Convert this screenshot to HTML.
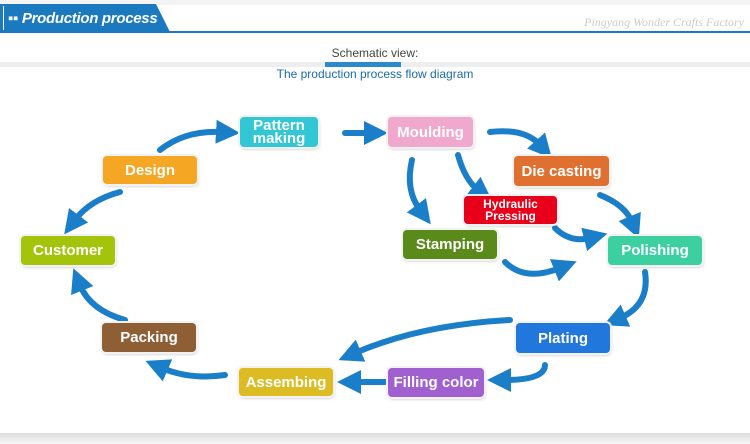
<!DOCTYPE html>
<html><head><meta charset="utf-8"><style>
body{margin:0;width:750px;height:444px;background:#fff;overflow:hidden;position:relative;font-family:"Liberation Sans",sans-serif}
.b{position:absolute;border-radius:4px;color:#fff;font-weight:bold;font-size:15px;display:flex;align-items:center;justify-content:center;text-align:center;box-shadow:0 0 0 2px #f2f2f2,1px 2px 3px rgba(0,0,0,.25);line-height:13px}
</style></head><body>
<div style="position:absolute;left:0;top:0;width:750px;height:5px;background:#f4f4f4"></div>
<div style="position:absolute;left:0;top:31px;width:750px;height:2px;background:#1a79bf"></div>
<div style="position:absolute;left:0;top:4px;width:170px;height:28px;background:#1a79bf;clip-path:polygon(0 0,156px 0,170px 100%,0 100%)"></div>
<div style="position:absolute;left:3px;top:6px;width:1px;height:24px;background:#fff"></div>
<div style="position:absolute;left:8px;top:10px;color:#fff;font-size:15px;font-weight:bold;font-style:italic;letter-spacing:-0.3px;white-space:nowrap">▪▪ Production process</div>
<div style="position:absolute;right:6px;top:15px;color:#ccc;font-size:12px;font-style:italic;font-family:'Liberation Serif',serif">Pingyang Wonder Crafts Factory</div>
<div style="position:absolute;left:0;top:62px;width:750px;height:5px;background:#eee"></div>
<div style="position:absolute;left:325px;top:62px;width:76px;height:5px;background:#2a8acb"></div>
<div style="position:absolute;left:0;top:46px;width:750px;text-align:center;color:#444;font-size:12px">Schematic view:</div>
<div style="position:absolute;left:0;top:67px;width:750px;text-align:center;color:#1a6bab;font-size:12px">The production process flow diagram</div>
<div style="position:absolute;left:0;top:433px;width:750px;height:11px;background:linear-gradient(#ddd,#f6f6f6)"></div>

<svg width="750" height="444" style="position:absolute;left:0;top:0">
<defs><marker id="a" markerWidth="4" markerHeight="4" refX="1" refY="2" orient="auto"><path d="M0,0 L4,2 L0,4 Z" fill="#1a7ec8"/></marker></defs>
<g fill="none" stroke="#1a7ec8" stroke-width="6" marker-end="url(#a)" stroke-linecap="round">
<path d="M160,150 Q185,130 222,132"/>
<path d="M345,133 L370,133"/>
<path d="M490,132 Q525,128 540,145"/>
<path d="M458,155 Q465,180 478,190"/>
<path d="M412,160 Q405,190 420,210"/>
<path d="M600,195 Q625,205 632,222"/>
<path d="M555,228 Q570,243 590,238"/>
<path d="M505,262 Q525,282 560,268"/>
<path d="M645,272 Q650,305 620,318"/>
<path d="M510,320 Q420,325 355,353"/>
<path d="M545,365 Q545,380 505,380"/>
<path d="M385,382 L355,382"/>
<path d="M225,375 Q190,380 162,368"/>
<path d="M125,320 Q90,310 80,285"/>
<path d="M120,192 Q90,200 75,220"/>
</g></svg>

<div class="b" style="left:240px;top:117px;width:78px;height:30px;background:#33c6d4">Pattern<br>making</div>
<div class="b" style="left:388px;top:117px;width:85px;height:30px;background:#f0a8cc">Moulding</div>
<div class="b" style="left:103px;top:156px;width:94px;height:28px;background:#f5a623">Design</div>
<div class="b" style="left:514px;top:156px;width:95px;height:30px;background:#e07030">Die casting</div>
<div class="b" style="left:464px;top:196px;width:93px;height:28px;background:#e8001a;font-size:12px;line-height:12px">Hydraulic<br>Pressing</div>
<div class="b" style="left:21px;top:236px;width:94px;height:29px;background:#a4c40c">Customer</div>
<div class="b" style="left:403px;top:230px;width:94px;height:29px;background:#5a8a1a">Stamping</div>
<div class="b" style="left:608px;top:236px;width:94px;height:29px;background:#3cd0a0">Polishing</div>
<div class="b" style="left:516px;top:323px;width:94px;height:30px;background:#2277dd">Plating</div>
<div class="b" style="left:102px;top:323px;width:94px;height:29px;background:#8e5e34">Packing</div>
<div class="b" style="left:239px;top:368px;width:94px;height:28px;background:#ddbb22">Assembing</div>
<div class="b" style="left:388px;top:368px;width:96px;height:29px;background:#a060d0">Filling color</div>
</body></html>
